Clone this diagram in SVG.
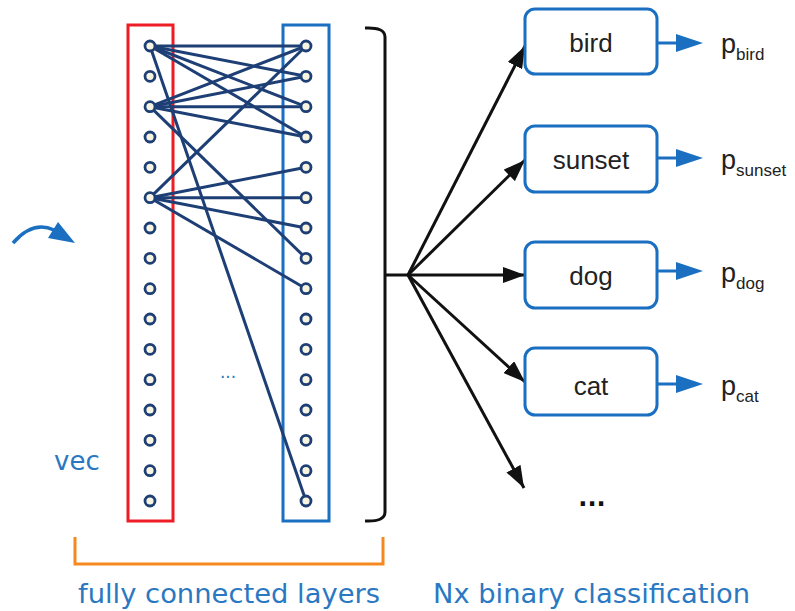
<svg xmlns="http://www.w3.org/2000/svg" width="795" height="611" viewBox="0 0 795 611">
<style>
.node{fill:#f8f4e2;stroke:#1e3f75;stroke-width:2.8}
.fc line{stroke:#1e3f75;stroke-width:3}
.ar{stroke:#111;stroke-width:3;fill:none}
.box{fill:#fff;stroke:#1a6fc0;stroke-width:3}
.lbl{font-family:"Liberation Sans",Arial,sans-serif;font-size:26px;fill:#222;text-anchor:middle}
.p{font-family:"Liberation Sans",Arial,sans-serif;font-size:27px;fill:#222}
.sub{font-size:17px}
.bt{font-family:"DejaVu Sans","Open Sans",sans-serif;font-size:26px;fill:#2b78c2}
.bl{stroke:#1a6fc0;stroke-width:3}
</style>
<defs>
<marker id="ah" viewBox="0 0 22 16" refX="22" refY="8" markerWidth="22" markerHeight="16" markerUnits="userSpaceOnUse" orient="auto">
<path d="M0,0 L22,8 L0,16 Z" fill="#111"/>
</marker>
</defs>
<rect width="795" height="611" fill="#fff"/>

<!-- left input arrow -->
<g id="input-arrow">
<path d="M13,243 Q33,220 54,230" fill="none" stroke="#1a6fc0" stroke-width="3.5"/>
<polygon points="48,238 58,222 75,243" fill="#1a6fc0"/>
</g>
<text class="bt" x="54" y="470" font-size="24">vec</text>

<!-- layer rectangles -->
<rect id="layer1" x="128" y="25" width="45" height="496" fill="none" stroke="#ee1c24" stroke-width="3"/>
<rect id="layer2" x="283" y="25" width="46" height="496" fill="none" stroke="#1a6fc0" stroke-width="3"/>

<!-- connections -->
<g id="connectors" class="fc">
<line x1="150" y1="46" x2="306" y2="46"/>
<line x1="150" y1="46" x2="306" y2="76.3"/>
<line x1="150" y1="46" x2="306" y2="106.7"/>
<line x1="150" y1="46" x2="306" y2="137"/>
<line x1="150" y1="46" x2="306" y2="501"/>
<line x1="150" y1="106.7" x2="306" y2="46"/>
<line x1="150" y1="106.7" x2="306" y2="76.3"/>
<line x1="150" y1="106.7" x2="306" y2="106.7"/>
<line x1="150" y1="106.7" x2="306" y2="137"/>
<line x1="150" y1="106.7" x2="306" y2="258.3"/>
<line x1="150" y1="197.7" x2="306" y2="46"/>
<line x1="150" y1="197.7" x2="306" y2="167.3"/>
<line x1="150" y1="197.7" x2="306" y2="197.7"/>
<line x1="150" y1="197.7" x2="306" y2="228"/>
<line x1="150" y1="197.7" x2="306" y2="288.7"/>
</g>

<!-- neurons -->
<g id="neurons-left">
<circle class="node" cx="150" cy="46" r="5"/>
<circle class="node" cx="150" cy="76.3" r="5"/>
<circle class="node" cx="150" cy="106.7" r="5"/>
<circle class="node" cx="150" cy="137" r="5"/>
<circle class="node" cx="150" cy="167.3" r="5"/>
<circle class="node" cx="150" cy="197.7" r="5"/>
<circle class="node" cx="150" cy="228" r="5"/>
<circle class="node" cx="150" cy="258.3" r="5"/>
<circle class="node" cx="150" cy="288.7" r="5"/>
<circle class="node" cx="150" cy="319" r="5"/>
<circle class="node" cx="150" cy="349.3" r="5"/>
<circle class="node" cx="150" cy="379.7" r="5"/>
<circle class="node" cx="150" cy="410" r="5"/>
<circle class="node" cx="150" cy="440.3" r="5"/>
<circle class="node" cx="150" cy="470.7" r="5"/>
<circle class="node" cx="150" cy="501" r="5"/>
</g>
<g id="neurons-right">
<circle class="node" cx="306" cy="46" r="5"/>
<circle class="node" cx="306" cy="76.3" r="5"/>
<circle class="node" cx="306" cy="106.7" r="5"/>
<circle class="node" cx="306" cy="137" r="5"/>
<circle class="node" cx="306" cy="167.3" r="5"/>
<circle class="node" cx="306" cy="197.7" r="5"/>
<circle class="node" cx="306" cy="228" r="5"/>
<circle class="node" cx="306" cy="258.3" r="5"/>
<circle class="node" cx="306" cy="288.7" r="5"/>
<circle class="node" cx="306" cy="319" r="5"/>
<circle class="node" cx="306" cy="349.3" r="5"/>
<circle class="node" cx="306" cy="379.7" r="5"/>
<circle class="node" cx="306" cy="410" r="5"/>
<circle class="node" cx="306" cy="440.3" r="5"/>
<circle class="node" cx="306" cy="470.7" r="5"/>
<circle class="node" cx="306" cy="501" r="5"/>
</g>
<text x="228" y="378" font-family="DejaVu Sans,sans-serif" font-size="17" fill="#2b78c2" text-anchor="middle">...</text>

<!-- bracket -->
<path id="bracket" d="M365,28 Q385,27 385,37 L385,512 Q385,522 365,521 M385,275 L408,275" fill="none" stroke="#111" stroke-width="3"/>

<!-- fan-out arrows -->
<g id="fan-arrows">
<line class="ar" x1="408" y1="275" x2="525" y2="46" marker-end="url(#ah)"/>
<line class="ar" x1="408" y1="275" x2="525" y2="160" marker-end="url(#ah)"/>
<line class="ar" x1="408" y1="275" x2="525" y2="275" marker-end="url(#ah)"/>
<line class="ar" x1="408" y1="275" x2="525" y2="382" marker-end="url(#ah)"/>
<line class="ar" x1="408" y1="275" x2="524" y2="488" marker-end="url(#ah)"/>
</g>

<g id="bird">
<rect class="box" x="525" y="9" width="132" height="65" rx="10"/>
<text class="lbl" x="591" y="52">bird</text>
<line class="bl" x1="657" y1="43" x2="678" y2="43"/>
<polygon points="676,34 703,43 676,52" fill="#1a6fc0"/>
<text class="p" x="721" y="53">p<tspan class="sub" dy="7">bird</tspan></text>
</g>
<g id="sunset">
<rect class="box" x="525" y="126" width="132" height="66" rx="10"/>
<text class="lbl" x="591" y="169">sunset</text>
<line class="bl" x1="657" y1="158" x2="678" y2="158"/>
<polygon points="676,149 703,158 676,167" fill="#1a6fc0"/>
<text class="p" x="721" y="169">p<tspan class="sub" dy="7">sunset</tspan></text>
</g>
<g id="dog">
<rect class="box" x="525" y="242" width="132" height="66" rx="10"/>
<text class="lbl" x="591" y="285">dog</text>
<line class="bl" x1="657" y1="271" x2="678" y2="271"/>
<polygon points="676,262 703,271 676,280" fill="#1a6fc0"/>
<text class="p" x="721" y="282">p<tspan class="sub" dy="7">dog</tspan></text>
</g>
<g id="cat">
<rect class="box" x="525" y="348" width="132" height="67" rx="10"/>
<text class="lbl" x="591" y="395">cat</text>
<line class="bl" x1="657" y1="384" x2="678" y2="384"/>
<polygon points="676,375 703,384 676,393" fill="#1a6fc0"/>
<text class="p" x="721" y="395">p<tspan class="sub" dy="7">cat</tspan></text>
</g>
<text x="592" y="506" font-family="DejaVu Sans,sans-serif" font-size="24" font-weight="bold" fill="#111" text-anchor="middle">...</text>

<!-- bottom bracket and labels -->
<path id="fc-bracket" d="M75,537 L75,564 L383,564 L383,537" fill="none" stroke="#f5891f" stroke-width="3"/>
<text class="bt" x="78" y="603" textLength="302" lengthAdjust="spacingAndGlyphs">fully connected layers</text>
<text class="bt" x="433" y="603" textLength="317" lengthAdjust="spacingAndGlyphs">Nx binary classification</text>
</svg>
